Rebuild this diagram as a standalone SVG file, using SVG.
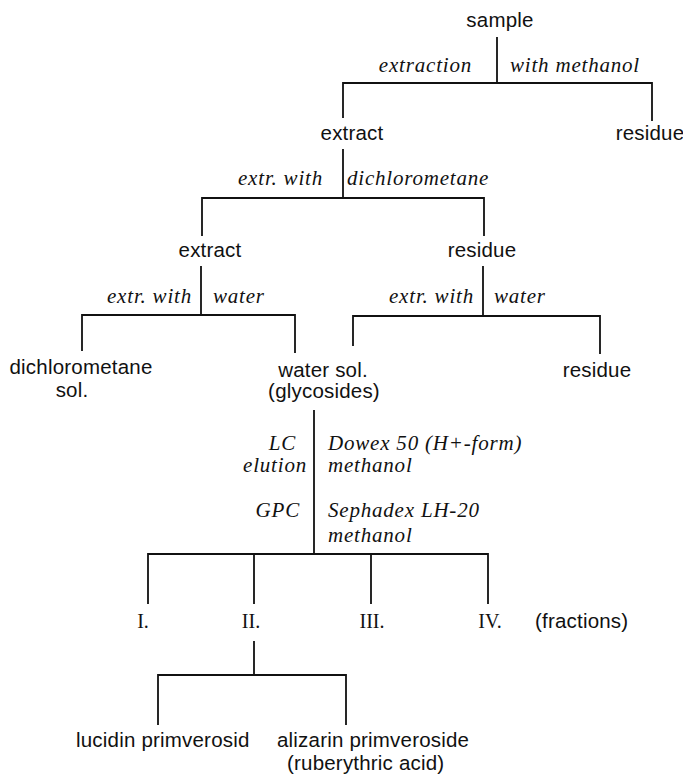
<svg xmlns="http://www.w3.org/2000/svg" width="683" height="776" viewBox="0 0 683 776">
  <style>
    .node { font-family: "Liberation Sans", Arial, sans-serif; font-size: 20.5px; letter-spacing: 0.2px; fill: #111; }
    .step { font-family: "Liberation Serif", "Times New Roman", serif; font-style: italic; font-size: 21px; letter-spacing: 0.8px; fill: #111; }
    .roman { font-family: "Liberation Serif", "Times New Roman", serif; font-size: 20px; fill: #111; }
    .mid { text-anchor: middle; }
    .end { text-anchor: end; }
    .wire { fill: none; stroke: #111; stroke-width: 1.8; stroke-linecap: square; }
  </style>

  <!-- tree connectors -->
  <g id="connectors" class="wire">
    <path d="M497 38 V83 M343 83 H652 M343 83 V117 M652 83 V120"/>
    <path d="M343 150 V198 M202 198 H484 M202 198 V235 M484 198 V235"/>
    <path d="M201 267 V315 M82 315 H295 M82 315 V350 M295 315 V352"/>
    <path d="M483 267 V316 M353 316 H600 M353 316 V345 M600 316 V353"/>
    <path d="M314 411 V554 M148 554 H488 M148 554 V603 M254 554 V603 M371 554 V603 M488 554 V603"/>
    <path d="M254 642 V675 M158 675 H346 M158 675 V724 M346 675 V724"/>
  </g>

  <!-- step labels beside the stems -->
  <g id="step-methanol">
    <text class="step end" x="472" y="72">extraction</text>
    <text class="step" x="510" y="72">with methanol</text>
  </g>
  <g id="step-dcm">
    <text class="step end" x="323" y="185">extr. with</text>
    <text class="step" x="347" y="185">dichlorometane</text>
  </g>
  <g id="step-water-left">
    <text class="step end" x="192" y="303">extr. with</text>
    <text class="step" x="213" y="303">water</text>
  </g>
  <g id="step-water-right">
    <text class="step end" x="474" y="303">extr. with</text>
    <text class="step" x="494" y="303">water</text>
  </g>
  <g id="step-lc">
    <text class="step end" x="296" y="450">LC</text>
    <text class="step end" x="307" y="472">elution</text>
    <text class="step" x="328" y="450">Dowex 50 (H+-form)</text>
    <text class="step" x="328" y="472">methanol</text>
  </g>
  <g id="step-gpc">
    <text class="step end" x="300" y="517">GPC</text>
    <text class="step" x="328" y="517">Sephadex LH-20</text>
    <text class="step" x="328" y="542">methanol</text>
  </g>

  <!-- nodes -->
  <g id="sample"><text class="node mid" x="500" y="27">sample</text></g>
  <g id="extract-1"><text class="node mid" x="352" y="140">extract</text></g>
  <g id="residue-1"><text class="node mid" x="650" y="140">residue</text></g>
  <g id="extract-2"><text class="node mid" x="210" y="257">extract</text></g>
  <g id="residue-2"><text class="node mid" x="482" y="257">residue</text></g>
  <g id="dcm-sol">
    <text class="node mid" x="81" y="374">dichlorometane</text>
    <text class="node mid" x="72" y="397">sol.</text>
  </g>
  <g id="water-sol">
    <text class="node mid" x="323" y="377">water sol.</text>
    <text class="node mid" x="324" y="398">(glycosides)</text>
  </g>
  <g id="residue-3"><text class="node mid" x="597" y="377">residue</text></g>

  <g id="fraction-1"><text class="roman mid" x="143" y="628">I.</text></g>
  <g id="fraction-2"><text class="roman mid" x="251" y="628">II.</text></g>
  <g id="fraction-3"><text class="roman mid" x="372" y="628">III.</text></g>
  <g id="fraction-4"><text class="roman mid" x="490" y="628">IV.</text></g>
  <g id="fractions-note"><text class="node" x="535" y="628">(fractions)</text></g>

  <g id="lucidin"><text class="node" x="76" y="747">lucidin primverosid</text></g>
  <g id="alizarin">
    <text class="node" x="277" y="747">alizarin primveroside</text>
    <text class="node" x="287" y="770">(ruberythric acid)</text>
  </g>
</svg>
